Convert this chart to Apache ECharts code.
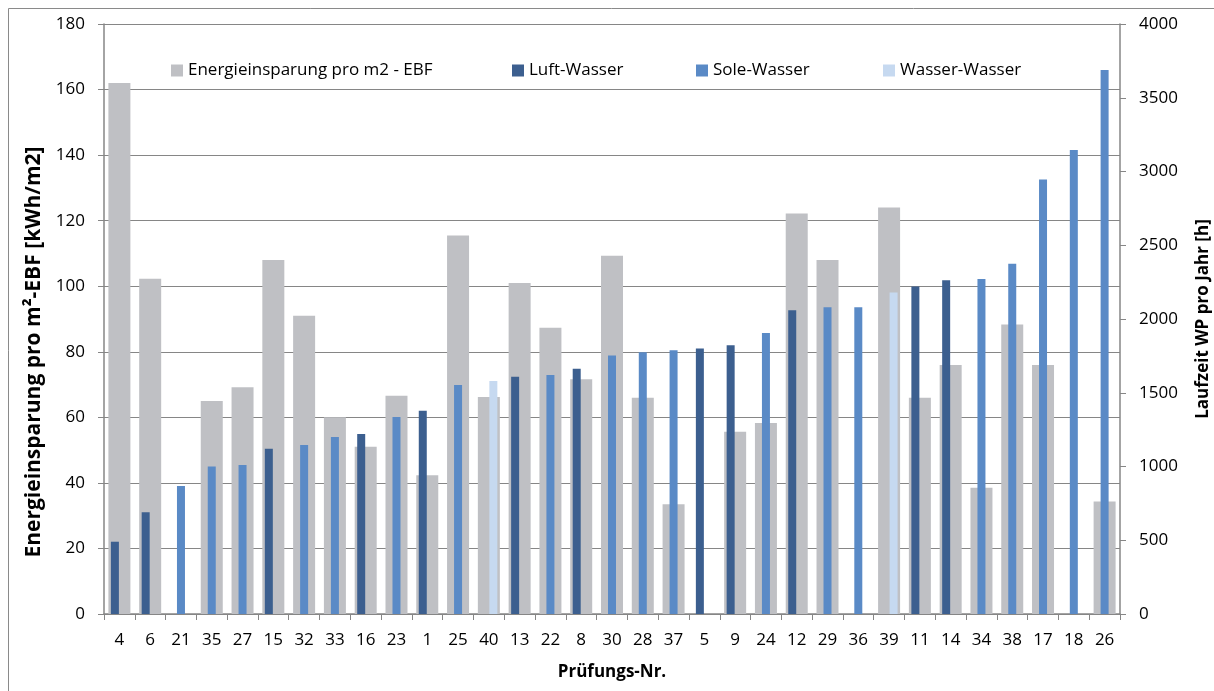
<!DOCTYPE html>
<html>
<head>
<meta charset="utf-8">
<script src="https://cdn.jsdelivr.net/npm/echarts@6/dist/echarts.min.js"></script>
<style>
html,body{margin:0;padding:0;background:#fff;overflow:hidden;width:1214px;height:691px;}
#chart{width:1214px;height:691px;display:block;}
</style>
</head>
<body>
<div id="chart"></div>
<script>
const categories = ['4','6','21','35','27','15','32','33','16','23','1','25','40','13','22','8','30','28','37','5','9','24','12','29','36','39','11','14','34','38','17','18','26'];
const energieinsparung = [162,102.3,null,65,69.2,108,91,60,51,66.6,42.3,115.5,66.2,101,87.3,71.6,109.3,66,33.5,null,55.6,58.3,122.2,108,null,124,66,76,38.5,88.3,76,null,34.3];
const luftWasser = [490,690,null,null,null,1120,null,null,1220,null,1378,null,null,1608,null,1662,null,null,null,1800,1822,null,2060,null,null,null,2220,2262,null,null,null,null,null];
const soleWasser = [null,null,868,1000,1010,null,1145,1200,null,1335,null,1553,null,null,1620,null,1753,1775,1788,null,null,1905,null,2080,2080,null,null,null,2272,2375,2945,3145,3688];
const wasserWasser = [null,null,null,null,null,null,null,null,null,null,null,null,1580,null,null,null,null,null,null,null,null,null,null,null,null,2180,null,null,null,null,null,null,null];

const FONT = '"Open Sans", "Noto Sans", sans-serif';
const AX = '#868686';
const chart = echarts.init(document.getElementById('chart'), null, {renderer:'canvas', width:1214, height:691});

function leg(name, left) {
  return {
    data: [name], left: left, top: 57, itemWidth: 12, itemHeight: 12, itemGap: 0,
    icon: 'rect', selectedMode: false,
    textStyle: {fontFamily: FONT, fontSize: 17, color: '#000'}
  };
}

chart.setOption({
  animation: false,
  graphic: [{type:'rect', shape:{x:8.5, y:8.5, width:1220, height:700}, style:{fill:null, stroke:'#8a8a8a', lineWidth:1}, silent:true, z:-10}],
  legend: [leg('Energieinsparung pro m2 - EBF', 166), leg('Luft-Wasser', 507), leg('Sole-Wasser', 691), leg('Wasser-Wasser', 878)],
  grid: {left:104, right:94, top:24, bottom:77, containLabel:false, outerBoundsMode:'none'},
  xAxis: [{
    type:'category', data: categories, position:'bottom',
    name:'Prüfungs-Nr.', nameLocation:'middle', nameGap:50,
    nameTextStyle:{fontFamily:FONT, fontSize:17, fontWeight:'bold', color:'#000'},
    axisLine:{lineStyle:{color:AX, width:1.5}},
    axisTick:{show:true, length:6, inside:false, lineStyle:{color:AX}},
    axisLabel:{fontFamily:FONT, fontSize:17, color:'#000', margin:18, interval:0}
  },{
    type:'category', data: categories, show:false, position:'bottom'
  }],
  yAxis: [{
    type:'value', min:0, max:180, interval:20, position:'left',
    name:'Energieinsparung pro m²-EBF [kWh/m2]', nameLocation:'middle', nameGap:47, nameRotate:90,
    nameTextStyle:{fontFamily:FONT, fontSize:21, fontWeight:'bold', color:'#000', padding:[0,66,0,0]},
    axisLine:{show:true, lineStyle:{color:AX, width:1.5}},
    axisTick:{show:true, length:6, lineStyle:{color:AX}},
    axisLabel:{fontFamily:FONT, fontSize:17, color:'#000', margin:19, formatter: v => String(v)},
    splitLine:{show:true, lineStyle:{color:AX, width:1}}
  },{
    type:'value', min:0, max:4000, interval:500, position:'right',
    name:'Laufzeit WP pro Jahr [h]', nameLocation:'middle', nameGap:75, nameRotate:90,
    nameTextStyle:{fontFamily:FONT, fontSize:17, fontWeight:'bold', color:'#000'},
    axisLine:{show:true, lineStyle:{color:AX, width:1.5}},
    axisTick:{show:true, length:6, lineStyle:{color:AX}},
    axisLabel:{fontFamily:FONT, fontSize:17, color:'#000', margin:19, formatter: v => String(v)},
    splitLine:{show:false}
  }],
  series: [
    {name:'Energieinsparung pro m2 - EBF', type:'bar', xAxisIndex:0, yAxisIndex:0, data:energieinsparung, barWidth:22, itemStyle:{color:'#BFC0C4'}, z:1},
    {name:'Luft-Wasser', type:'bar', xAxisIndex:1, yAxisIndex:1, data:luftWasser, barWidth:8, barGap:'-43.75%', itemStyle:{color:'#3C5F8F'}, z:3},
    {name:'Sole-Wasser', type:'bar', xAxisIndex:1, yAxisIndex:1, data:soleWasser, barWidth:8, barGap:'-43.75%', itemStyle:{color:'#5A8AC6'}, z:3},
    {name:'Wasser-Wasser', type:'bar', xAxisIndex:1, yAxisIndex:1, data:wasserWasser, barWidth:8, barGap:'-43.75%', itemStyle:{color:'#C6D9F0'}, z:3}
  ]
});
</script>
</body>
</html>
